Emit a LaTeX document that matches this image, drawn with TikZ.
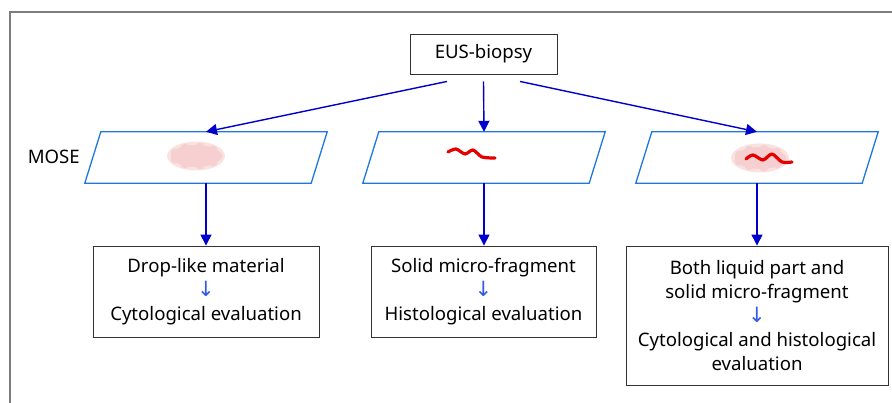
\documentclass[tikz,border=0pt]{standalone}
\usepackage{fontspec}
\setmainfont{Noto Sans}
\newfontfamily\symfont{DejaVu Sans}
\usetikzlibrary{arrows.meta,calc}
\definecolor{arrowblue}{RGB}{0,0,204}
\definecolor{slideblue}{RGB}{30,120,220}
\definecolor{smallblue}{RGB}{50,90,230}
\definecolor{blobpink}{RGB}{246,208,208}
\definecolor{blobpinkedge}{RGB}{250,226,226}
\definecolor{squigred}{RGB}{230,0,0}
\definecolor{framegray}{RGB}{125,125,125}
\newcommand\dnarrow{{\symfont\color{smallblue}\fontsize{21}{21}\selectfont ↓}}
\newcommand\pinkcloud[2]{%
  \fill[blobpinkedge] (#1,#2) ellipse (29pt and 14.5pt);
  \fill[blobpink] (#1,#2) ellipse (25pt and 11pt);
  \foreach \a in {0,40,...,320} {\fill[blobpink] ($(#1,#2)+({22*cos(\a)},{9*sin(\a)})$) circle (4.5pt);}
}
\begin{document}
\begin{tikzpicture}[x=1pt,y=-1pt,
  txt/.style={font=\fontsize{18.6}{24}\selectfont, align=center},
  box/.style={draw=black!80, line width=0.9pt, inner sep=0pt, txt},
  arr/.style={draw=arrowblue, line width=1.4pt, -{Triangle[length=11pt,width=11pt]}},
  slide/.style={minimum width=226pt, minimum height=51pt, inner sep=0pt},
  squig/.style={draw=squigred, line width=3.2pt, line cap=round, line join=round},
]
\useasboundingbox (0,0) rectangle (892,403);
\draw[framegray, line width=1.2pt] (892,12) -| (10,403);

\node[box, minimum width=147pt, minimum height=40pt] (eus) at (483.5,54) {EUS-biopsy};

\node[slide] (s1) at (206,157.5) {};
\node[slide] (s2) at (484,157.5) {};
\node[slide] (s3) at (757,157.5) {};
\foreach \n in {s1,s2,s3}
  \draw[slideblue, line width=1.3pt] ($(\n.north west)+(8,0)$) -- ($(\n.north east)+(8,0)$) -- ($(\n.south east)+(-8,0)$) -- ($(\n.south west)+(-8,0)$) -- cycle;

\node[txt, anchor=east, inner sep=0pt] (mose) at (80,157) {MOSE};

\pinkcloud{196}{156}
\draw[squig] plot[smooth] coordinates {(448,152) (456,149) (465,154) (473,150) (482,157) (495,158)};
\pinkcloud{760}{158}
\draw[squig] plot[smooth] coordinates {(746,159) (753,155) (763,160) (772,154) (782,162) (792,162)};

\node[box, minimum width=226pt, minimum height=91pt] (b1) at (206,291.5) {Drop-like material\\\dnarrow\\Cytological evaluation};
\node[box, minimum width=225pt, minimum height=91pt] (b2) at (483.5,291.5) {Solid micro-fragment\\\dnarrow\\Histological evaluation};
\node[box, minimum width=262pt, minimum height=139pt] (b3) at (757,315.5) {Both liquid part and\\solid micro-fragment\\\dnarrow\\Cytological and histological\\evaluation};

\coordinate (e1) at ($(eus.south)+(-36.5,7)$);
\coordinate (e2) at ($(eus.south)+(0,7)$);
\coordinate (e3) at ($(eus.south)+(36.5,7)$);
\draw[arr] (e1) -- (s1.north);
\draw[arr] (e2) -- (s2.north);
\draw[arr] (e3) -- (s3.north);
\draw[arr] (s1.south) -- (b1.north);
\draw[arr] (s2.south) -- (s2.south |- b2.north);
\draw[arr] (s3.south) -- (b3.north);
\end{tikzpicture}
\end{document}
